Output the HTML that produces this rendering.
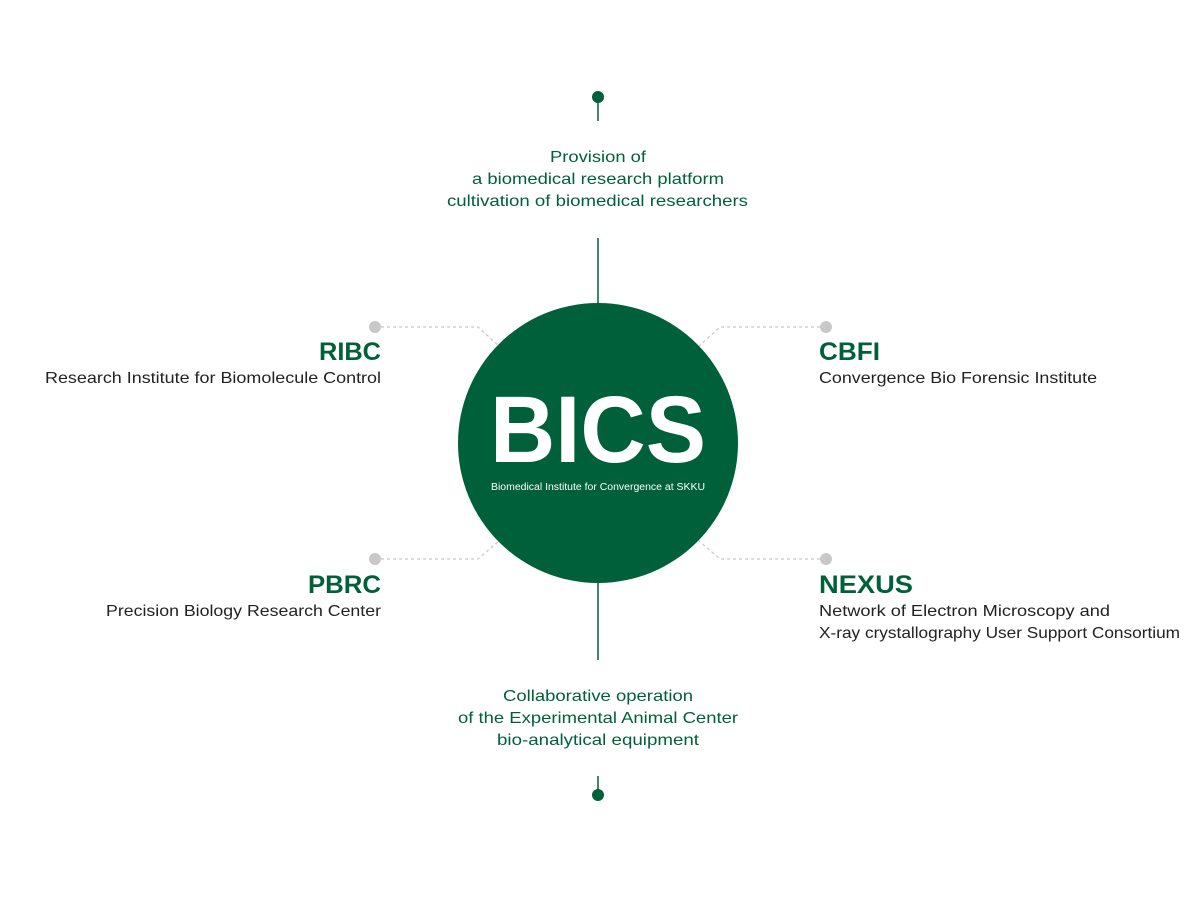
<!DOCTYPE html>
<html><head><meta charset="utf-8"><style>
html,body{margin:0;padding:0;background:#fff;}
svg{display:block;font-family:"Liberation Sans",sans-serif;}
</style></head><body>
<svg width="1200" height="899" viewBox="0 0 1200 899" xmlns="http://www.w3.org/2000/svg">
<rect width="1200" height="899" fill="#fff"/>
<line x1="598" y1="97" x2="598" y2="121" stroke="#00603a" stroke-width="1.5"/>
<circle cx="598" cy="97" r="6" fill="#00603a"/>
<line x1="598" y1="238" x2="598" y2="305" stroke="#00603a" stroke-width="1.5"/>
<line x1="598" y1="580" x2="598" y2="660" stroke="#00603a" stroke-width="1.5"/>
<line x1="598" y1="776" x2="598" y2="795" stroke="#00603a" stroke-width="1.5"/>
<circle cx="598" cy="795" r="6" fill="#00603a"/>
<g stroke="#c8c8c8" stroke-width="1.3" stroke-dasharray="3,3" fill="none">
<polyline points="375,327 478,327 500,347"/>
<polyline points="826,327 720,327 698,347"/>
<polyline points="375,559 478,559 500,540"/>
<polyline points="826,559 720,559 698,540"/>
</g>
<g fill="#c8c8c8">
<circle cx="375" cy="327" r="6"/><circle cx="826" cy="327" r="6"/>
<circle cx="375" cy="559" r="6"/><circle cx="826" cy="559" r="6"/>
</g>
<circle cx="598" cy="443" r="140" fill="#00603a"/>
<text x="490" y="462" font-size="95" font-weight="bold" fill="#fff" textLength="216" lengthAdjust="spacingAndGlyphs">BICS</text>
<text x="491" y="490" font-size="10" fill="#fff" textLength="214" lengthAdjust="spacingAndGlyphs">Biomedical Institute for Convergence at SKKU</text>
<g fill="#00603a" font-size="16" lengthAdjust="spacingAndGlyphs">
<text x="550" y="162" textLength="96" lengthAdjust="spacingAndGlyphs">Provision of</text>
<text x="472" y="184" textLength="252" lengthAdjust="spacingAndGlyphs">a biomedical research platform</text>
<text x="447" y="206" textLength="301" lengthAdjust="spacingAndGlyphs">cultivation of biomedical researchers</text>
<text x="503" y="701" textLength="190" lengthAdjust="spacingAndGlyphs">Collaborative operation</text>
<text x="458" y="723" textLength="280" lengthAdjust="spacingAndGlyphs">of the Experimental Animal Center</text>
<text x="497" y="745" textLength="202" lengthAdjust="spacingAndGlyphs">bio-analytical equipment</text>
</g>
<g font-weight="bold" font-size="25" fill="#00603a">
<text x="319" y="360" textLength="62" lengthAdjust="spacingAndGlyphs">RIBC</text>
<text x="308" y="593" textLength="73" lengthAdjust="spacingAndGlyphs">PBRC</text>
<text x="819" y="360" textLength="61" lengthAdjust="spacingAndGlyphs">CBFI</text>
<text x="819" y="593" textLength="94" lengthAdjust="spacingAndGlyphs">NEXUS</text>
</g>
<g font-size="16" fill="#222">
<text x="45" y="383" textLength="336" lengthAdjust="spacingAndGlyphs">Research Institute for Biomolecule Control</text>
<text x="106" y="616" textLength="275" lengthAdjust="spacingAndGlyphs">Precision Biology Research Center</text>
<text x="819" y="383" textLength="278" lengthAdjust="spacingAndGlyphs">Convergence Bio Forensic Institute</text>
<text x="819" y="616" textLength="291" lengthAdjust="spacingAndGlyphs">Network of Electron Microscopy and</text>
<text x="819" y="638" textLength="361" lengthAdjust="spacingAndGlyphs">X-ray crystallography User Support Consortium</text>
</g>
</svg>
</body></html>
